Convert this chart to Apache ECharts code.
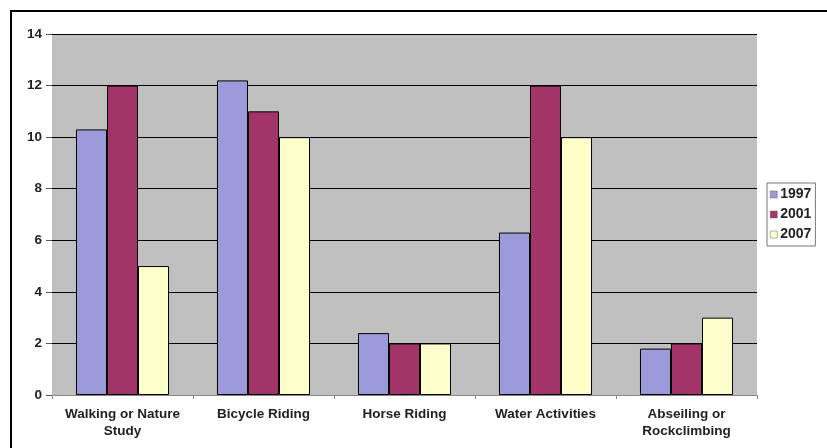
<!DOCTYPE html>
<html><head><meta charset="utf-8">
<script src="https://cdn.jsdelivr.net/npm/echarts@6/dist/echarts.min.js"></script>
<style>html,body{margin:0;padding:0;background:#fff}#c{width:827px;height:448px}</style>
</head><body><div id="c"></div>
<script>
const categories = ['Walking or Nature\nStudy', 'Bicycle Riding', 'Horse Riding', 'Water Activities', 'Abseiling or\nRockclimbing'];
const years = ['1997', '2001', '2007'];
const v1997 = [10.3, 12.2, 2.4, 6.3, 1.8];
const v2001 = [12, 11, 2, 12, 2];
const v2007 = [5, 10, 2, 10, 3];
const yTicks = [0, 2, 4, 6, 8, 10, 12, 14];
const colors = ['#9c9ad8', '#a33468', '#ffffcc'];
const chart = echarts.init(document.getElementById('c'), null, {renderer: 'canvas'});
const values = [v1997, v2001, v2007];
chart.setOption({
  animation: false,
  textStyle: {fontFamily: 'Liberation Sans, Arial, sans-serif'},
  graphic: [{type: 'rect', shape: {x: 11, y: 11, width: 830, height: 450}, style: {fill: 'none', stroke: '#000', lineWidth: 2}, z: -10}],
  grid: {left: 52, right: 70, top: 34, bottom: 53, backgroundColor: '#c0c0c0', show: true, borderWidth: 0},
  legend: {
    orient: 'vertical', left: 767, top: 183, itemWidth: 7, itemHeight: 7, itemGap: 5,
    icon: 'rect',
    data: years, borderColor: '#777', borderWidth: 1, padding: [4, 4, 4, 3],
    textStyle: {fontSize: 14, fontWeight: 'bold', color: '#222', padding: [0, 0, 0, -2], lineHeight: 15},
    itemStyle: {borderColor: '#666', borderWidth: 0.5}
  },
  xAxis: {
    type: 'category', data: categories,
    axisLine: {lineStyle: {color: '#888'}},
    axisTick: {show: true, lineStyle: {color: '#888'}, length: 4},
    axisLabel: {fontSize: 13.5, fontWeight: 'bold', color: '#222', lineHeight: 17, margin: 11, interval: 0}
  },
  yAxis: {
    type: 'value', min: yTicks[0], max: yTicks[yTicks.length - 1], interval: 2,
    axisLine: {show: false},
    axisTick: {show: true, length: 6, lineStyle: {color: '#555'}},
    splitLine: {lineStyle: {color: '#000', width: 1.2}},
    axisLabel: {fontSize: 13.5, fontWeight: 'bold', color: '#222', margin: 10}
  },
  series: years.map((y, i) => ({
    name: y, type: 'bar', data: values[i],
    barGap: '0%', barCategoryGap: '34%',
    itemStyle: {color: colors[i], borderColor: '#000', borderWidth: 1}
  }))
});
</script></body></html>
